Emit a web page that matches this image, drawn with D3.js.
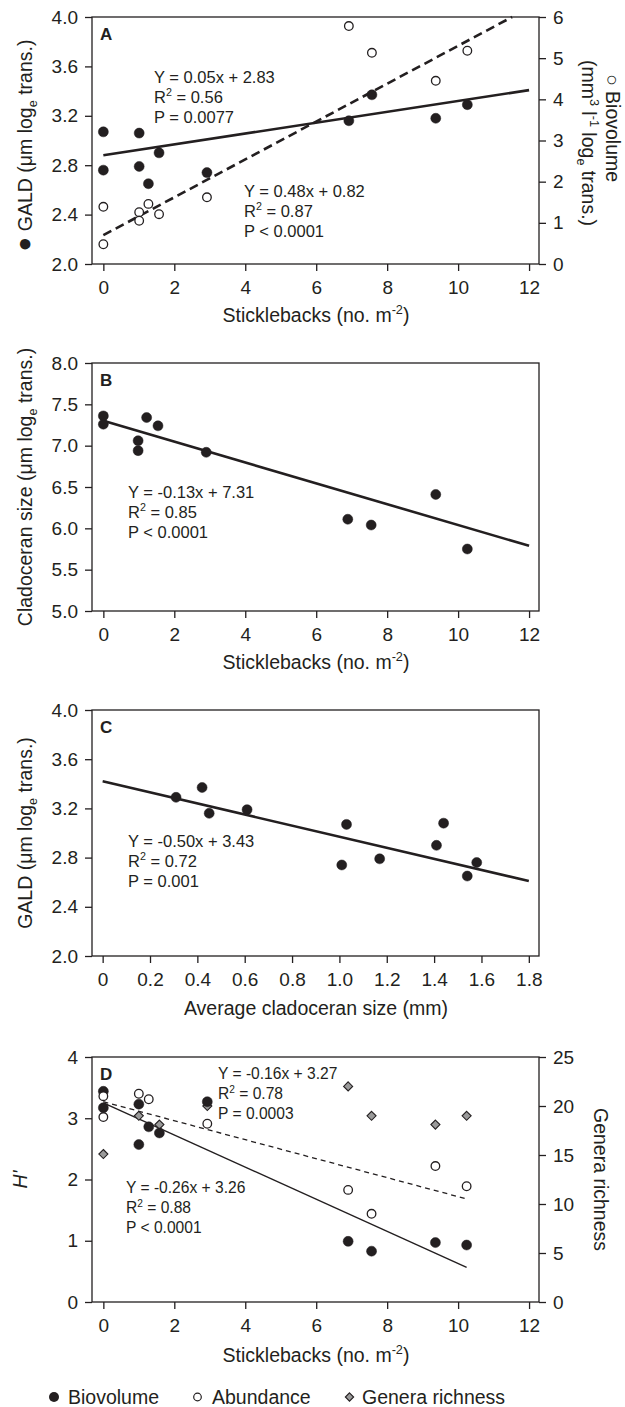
<!DOCTYPE html>
<html>
<head>
<meta charset="utf-8">
<script src="https://cdnjs.cloudflare.com/ajax/libs/d3/7.8.5/d3.min.js"></script>
<style>
body { margin: 0; background: #fff; }
svg { display: block; font-family: "Liberation Sans", Arial, Helvetica, sans-serif; }
.axis text { font-size: 19px; fill: #231f20; font-family: "Liberation Sans", Arial, sans-serif; }
.axis line { stroke: #231f20; stroke-width: 1.3; }
.title { font-size: 19.5px; fill: #231f20; }
.note { fill: #231f20; }
.letter { font-size: 17px; font-weight: bold; fill: #231f20; }
</style>
</head>
<body>
<div id="chart"></div>
<script>
// ---- data ----
// A: GALD and biovolume vs sticklebacks
var sitesA = [0, 0, 1.01, 1.01, 1.27, 1.57, 2.92, 6.92, 7.57, 9.37, 10.26];
var galdA = [3.07, 2.76, 3.06, 2.79, 2.65, 2.90, 2.74, 3.16, 3.37, 3.18, 3.29];
var biovolA = [1.39, 0.48, 1.26, 1.05, 1.46, 1.21, 1.62, 5.78, 5.13, 4.45, 5.18];
var fitGaldA = [2.88, 0.044];     // intercept, slope (as drawn)
var fitBiovolA = [0.70, 0.46];

// B: cladoceran size vs sticklebacks
var sitesB = [0, 0, 0.98, 0.98, 1.22, 1.54, 2.90, 6.89, 7.55, 9.37, 10.26];
var cladB = [7.36, 7.26, 7.06, 6.94, 7.34, 7.24, 6.92, 6.11, 6.04, 6.41, 5.75];
var fitCladB = [7.30, -0.126];

// C: GALD vs average cladoceran size
var cladSizeC = [0.31, 0.42, 0.45, 0.61, 1.03, 1.01, 1.17, 1.41, 1.44, 1.58, 1.54];
var galdC = [3.29, 3.37, 3.16, 3.19, 3.07, 2.74, 2.79, 2.90, 3.08, 2.76, 2.65];
var fitGaldC = [3.42, -0.45];

// D: diversity vs sticklebacks
var sitesD = [0, 0, 1, 1, 1.28, 1.58, 2.93, 6.9, 7.56, 9.36, 10.24];
var biovolD = [3.44, 3.17, 3.23, 2.57, 2.86, 2.76, 3.27, 0.99, 0.83, 0.97, 0.93];
var abundD = [3.36, 3.02, 3.40, null, 3.31, null, 2.91, 1.83, 1.44, 2.22, 1.89];
var generaD = [15.1, null, 19.0, null, null, 18.1, 20.0, 22.0, 19.0, 18.1, 19.0];
var fitBiovolD = [3.25, -0.262];
var fitAbundD = [3.27, -0.155];

// tick values
var ticksStick = [0, 2, 4, 6, 8, 10, 12];
var ticksGald = [2.0, 2.4, 2.8, 3.2, 3.6, 4.0];
var ticksBiovol = [0, 1, 2, 3, 4, 5, 6];
var ticksClad = [5.0, 5.5, 6.0, 6.5, 7.0, 7.5, 8.0];
var ticksSize = [0, 0.2, 0.4, 0.6, 0.8, 1.0, 1.2, 1.4, 1.6, 1.8];
var ticksH = [0, 1, 2, 3, 4];
var ticksGenera = [0, 5, 10, 15, 20, 25];

// ---- layout ----
var W = 625, H = 1407;
var left = 92, right = 539;
var ink = "#231f20";

var svg = d3.select("#chart").append("svg")
    .attr("width", W)
    .attr("height", H);

var xStick = d3.scaleLinear().domain([-0.32, 12.28]).range([left, right]);
var xSize = d3.scaleLinear().domain([-0.045, 1.843]).range([left, right]);

// text with sup/sub parts: parts are strings or [text, "sup"|"sub"|"big"]
function rich(sel, parts, size) {
  var shift = 0;
  parts.forEach(function(p) {
    var t = typeof p === "string" ? p : p[0];
    var kind = typeof p === "string" ? null : p[1];
    var target = kind == "sup" ? -size * 0.4 : kind == "sub" ? size * 0.25 : 0;
    var ts = sel.append("tspan").attr("dy", target - shift).text(t);
    if (kind == "sup" || kind == "sub") ts.attr("font-size", size * 0.65);
    if (kind == "big") ts.attr("font-size", size * 1.25);
    shift = target;
  });
  return sel;
}

function frame(top, bottom) {
  svg.append("rect")
      .attr("x", left).attr("y", top)
      .attr("width", right - left).attr("height", bottom - top)
      .attr("fill", "none")
      .attr("stroke", ink)
      .attr("stroke-width", 1.3);
}

function bottomAxis(x, ticks, bottom, fmt) {
  svg.append("g")
      .attr("class", "axis")
      .attr("transform", "translate(0," + bottom + ")")
      .call(d3.axisBottom(x).tickValues(ticks).tickSize(7).tickPadding(10).tickFormat(fmt))
    .select(".domain").remove();
}

function leftAxis(y, ticks, fmt) {
  svg.append("g")
      .attr("class", "axis")
      .attr("transform", "translate(" + left + ",0)")
      .call(d3.axisLeft(y).tickValues(ticks).tickSize(7).tickPadding(7).tickFormat(fmt))
    .select(".domain").remove();
}

function rightAxis(y, ticks, fmt) {
  svg.append("g")
      .attr("class", "axis")
      .attr("transform", "translate(" + right + ",0)")
      .call(d3.axisRight(y).tickValues(ticks).tickSize(7).tickPadding(7).tickFormat(fmt))
    .select(".domain").remove();
}

function title(x, y, rot, parts) {
  var t = svg.append("text")
      .attr("class", "title")
      .attr("text-anchor", "middle")
      .attr("transform", "translate(" + x + "," + y + ")" + (rot ? " rotate(" + rot + ")" : ""));
  return rich(t, parts, 19.5);
}

function note(x, y, lines, size) {
  lines.forEach(function(parts, i) {
    var t = svg.append("text")
        .attr("class", "note")
        .attr("x", x)
        .attr("y", y + i * 20)
        .attr("font-size", size);
    rich(t, parts, size);
  });
}

function letter(txt, top) {
  svg.append("text").attr("class", "letter").attr("x", 100).attr("y", top + 23).text(txt);
}

function fitLine(x, y, fit, x0, x1, width, dash) {
  var line = d3.line()
      .x(function(d) { return x(d); })
      .y(function(d) { return y(fit[0] + fit[1] * d); });
  svg.append("path")
      .datum([x0, x1])
      .attr("d", line)
      .attr("fill", "none")
      .attr("stroke", ink)
      .attr("stroke-width", width)
      .attr("stroke-dasharray", dash || null);
}

function dots(xs, ys, x, y, kind) {
  var pts = xs.map(function(d, i) { return [d, ys[i]]; })
      .filter(function(d) { return d[1] != null; });
  var sel = svg.append("g").selectAll("." + kind).data(pts).enter();
  if (kind == "diamond") {
    sel.append("path")
        .attr("d", d3.symbol().type(d3.symbolDiamond2).size(52))
        .attr("transform", function(d) { return "translate(" + x(d[0]) + "," + y(d[1]) + ")"; })
        .attr("fill", "#9a9a9a")
        .attr("stroke", ink)
        .attr("stroke-width", 1.1);
  } else {
    sel.append("circle")
        .attr("cx", function(d) { return x(d[0]); })
        .attr("cy", function(d) { return y(d[1]); })
        .attr("r", kind == "filled" ? 5 : 4.3)
        .attr("fill", kind == "filled" ? ink : "#fff")
        .attr("stroke", ink)
        .attr("stroke-width", kind == "filled" ? 0.5 : 1.3);
  }
}

var f1 = d3.format(".1f"), fInt = d3.format("d");
var stickTitle = ["Sticklebacks (no. m", ["-2", "sup"], ")"];

// ---- panel A ----
var topA = 17, botA = 264;
var yGaldA = d3.scaleLinear().domain([2, 4]).range([botA, topA]);
var yBioA = d3.scaleLinear().domain([0, 6]).range([botA, topA]);
frame(topA, botA);
bottomAxis(xStick, ticksStick, botA, fInt);
leftAxis(yGaldA, ticksGald, f1);
rightAxis(yBioA, ticksBiovol, fInt);
fitLine(xStick, yGaldA, fitGaldA, 0, 12, 2.6);
fitLine(xStick, yBioA, fitBiovolA, 0, (6 - fitBiovolA[0]) / fitBiovolA[1], 2.6, "9,5");
dots(sitesA, biovolA, xStick, yBioA, "open");
dots(sitesA, galdA, xStick, yGaldA, "filled");
letter("A", topA);
note(154, 83, [["Y = 0.05x + 2.83"], ["R", ["2", "sup"], " = 0.56"], ["P = 0.0077"]], 16.5);
note(244, 197, [["Y = 0.48x + 0.82"], ["R", ["2", "sup"], " = 0.87"], ["P < 0.0001"]], 16.5);
title(316, botA + 58, 0, stickTitle);
title(32, (topA + botA) / 2 + 5, -90, [["\u25CF", "big"], " GALD (\u03BCm log", ["e", "sub"], " trans.)"]);
title(606, 128, 90, ["\u25CB Biovolume"]);
title(582, 143, 90, ["(mm", ["3", "sup"], " l", ["-1", "sup"], " log", ["e", "sub"], " trans.)"]);

// ---- panel B ----
var topB = 363, botB = 611;
var yB = d3.scaleLinear().domain([5, 8]).range([botB, topB]);
frame(topB, botB);
bottomAxis(xStick, ticksStick, botB, fInt);
leftAxis(yB, ticksClad, f1);
fitLine(xStick, yB, fitCladB, 0, 12, 2.6);
dots(sitesB, cladB, xStick, yB, "filled");
letter("B", topB);
note(128, 498, [["Y = -0.13x + 7.31"], ["R", ["2", "sup"], " = 0.85"], ["P < 0.0001"]], 16.5);
title(316, botB + 58, 0, stickTitle);
title(32, (topB + botB) / 2, -90, ["Cladoceran size (\u03BCm log", ["e", "sub"], " trans.)"]);

// ---- panel C ----
var topC = 710, botC = 956;
var yC = d3.scaleLinear().domain([2, 4]).range([botC, topC]);
frame(topC, botC);
bottomAxis(xSize, ticksSize, botC, function(d) { return d == 0 ? "0" : d.toFixed(1); });
leftAxis(yC, ticksGald, f1);
fitLine(xSize, yC, fitGaldC, 0, 1.8, 2.6);
dots(cladSizeC, galdC, xSize, yC, "filled");
letter("C", topC);
note(128, 847, [["Y = -0.50x + 3.43"], ["R", ["2", "sup"], " = 0.72"], ["P = 0.001"]], 16.5);
title(316, botC + 59, 0, ["Average cladoceran size (mm)"]);
title(32, (topC + botC) / 2, -90, ["GALD (\u03BCm log", ["e", "sub"], " trans.)"]);

// ---- panel D ----
var topD = 1057, botD = 1302;
var yH = d3.scaleLinear().domain([0, 4]).range([botD, topD]);
var yGen = d3.scaleLinear().domain([0, 25]).range([botD, topD]);
frame(topD, botD);
bottomAxis(xStick, ticksStick, botD, fInt);
leftAxis(yH, ticksH, fInt);
rightAxis(yGen, ticksGenera, fInt);
var xMaxD = d3.max(sitesD);
fitLine(xStick, yH, fitAbundD, 0, xMaxD, 1.3, "5,4");
fitLine(xStick, yH, fitBiovolD, 0, xMaxD, 1.4);
dots(sitesD, generaD, xStick, yGen, "diamond");
dots(sitesD, biovolD, xStick, yH, "filled");
dots(sitesD, abundD, xStick, yH, "open");
letter("D", topD);
note(218, 1079, [["Y = -0.16x + 3.27"], ["R", ["2", "sup"], " = 0.78"], ["P = 0.0003"]], 15.6);
note(126, 1193, [["Y = -0.26x + 3.26"], ["R", ["2", "sup"], " = 0.88"], ["P < 0.0001"]], 15.6);
title(316, botD + 60, 0, stickTitle);
svg.append("text")
    .attr("class", "title")
    .attr("text-anchor", "middle")
    .attr("font-style", "italic")
    .attr("transform", "translate(27," + ((topD + botD) / 2) + ") rotate(-90)")
    .text("H'");
title(594, (topD + botD) / 2, 90, ["Genera richness"]);

// ---- legend ----
var legY = 1397;
svg.append("circle").attr("cx", 54).attr("cy", legY).attr("r", 5).attr("fill", ink);
svg.append("circle").attr("cx", 197.5).attr("cy", legY).attr("r", 3.8)
    .attr("fill", "#fff").attr("stroke", ink).attr("stroke-width", 1.2);
svg.append("path")
    .attr("d", d3.symbol().type(d3.symbolDiamond2).size(44))
    .attr("transform", "translate(349.5," + legY + ")")
    .attr("fill", "#9a9a9a").attr("stroke", ink).attr("stroke-width", 1.1);
[["Biovolume", 68], ["Abundance", 212], ["Genera richness", 362]].forEach(function(d) {
  svg.append("text").attr("class", "title").attr("x", d[1]).attr("y", legY + 7).text(d[0]);
});
</script>
</body>
</html>
